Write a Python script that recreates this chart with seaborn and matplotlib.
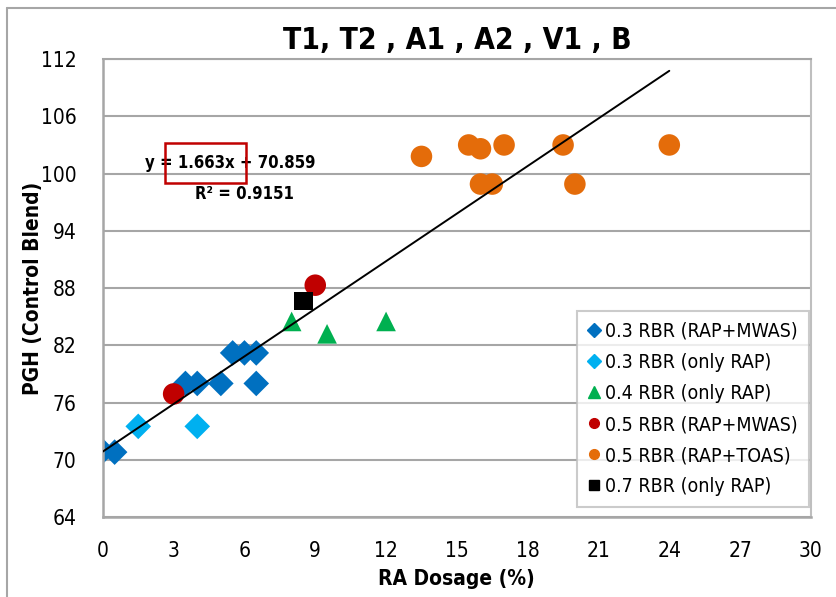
import matplotlib
matplotlib.use("Agg")
import matplotlib.pyplot as plt
from matplotlib import font_manager
from matplotlib.lines import Line2D
from matplotlib.patches import Rectangle
import numpy as np
import pandas as pd
import seaborn as sns

# ---- data -------------------------------------------------------------
groups = [
    "0.3 RBR (RAP+MWAS)",
    "0.3 RBR (only RAP)",
    "0.4 RBR (only RAP)",
    "0.5 RBR (RAP+MWAS)",
    "0.5 RBR (RAP+TOAS)",
    "0.7 RBR (only RAP)",
]

rbr03_mwas_x = [0, 0.5, 3.5, 4.0, 5.0, 6.5, 5.5, 6.0, 6.5]
rbr03_mwas_y = [70.9, 70.8, 78.0, 78.0, 78.0, 78.0, 81.2, 81.2, 81.2]

rbr03_rap_x = [1.5, 4.0]
rbr03_rap_y = [73.5, 73.5]

rbr04_rap_x = [8.0, 9.5, 12.0]
rbr04_rap_y = [84.5, 83.2, 84.5]

rbr05_mwas_x = [3.0, 9.0]
rbr05_mwas_y = [76.9, 88.3]

rbr05_toas_x = [13.5, 15.5, 16.0, 17.0, 19.5, 24.0, 16.0, 16.5, 20.0]
rbr05_toas_y = [101.8, 103.0, 102.6, 103.0, 103.0, 103.0, 98.9, 98.9, 98.9]

rbr07_rap_x = [8.5]
rbr07_rap_y = [86.6]

slope = 1.663
intercept = 70.859
r_squared = 0.9151

x_ticks = list(range(0, 31, 3))
y_ticks = list(range(64, 113, 6))

colors = ["#0070C0", "#00B0F0", "#00B050", "#C00000", "#E46C0A", "#000000"]
markers = ["D", "D", "^", "o", "o", "s"]
point_sizes = [170, 170, 200, 240, 240, 170]

xs = [rbr03_mwas_x, rbr03_rap_x, rbr04_rap_x, rbr05_mwas_x, rbr05_toas_x, rbr07_rap_x]
ys = [rbr03_mwas_y, rbr03_rap_y, rbr04_rap_y, rbr05_mwas_y, rbr05_toas_y, rbr07_rap_y]

df = pd.concat(
    [pd.DataFrame({"RA Dosage (%)": x, "PGH": y, "group": g}) for g, x, y in zip(groups, xs, ys)],
    ignore_index=True,
)

# ---- style ------------------------------------------------------------
sns.set_theme(style="white")
installed = {f.name for f in font_manager.fontManager.ttflist}
family = [f for f in ["Liberation Sans Narrow", "DejaVu Sans"] if f in installed]
plt.rcParams["font.family"] = family
plt.rcParams["font.stretch"] = "condensed"
plt.rcParams["text.color"] = "black"
plt.rcParams["axes.labelcolor"] = "black"

grid_grey = "#A6A6A6"

fig = plt.figure(figsize=(8.36, 5.97), dpi=100)
ax = fig.add_axes([0.123, 0.134, 0.847, 0.767])

# trend line over the data range
xfit = np.array([df["RA Dosage (%)"].min(), df["RA Dosage (%)"].max()])
ax.plot(xfit, slope * xfit + intercept, color="black", lw=1.4, zorder=3)

for g, c, m, s in zip(groups, colors, markers, point_sizes):
    sub = df[df["group"] == g]
    sns.scatterplot(data=sub, x="RA Dosage (%)", y="PGH", color=c, marker=m,
                    s=s, edgecolor="none", linewidth=0, ax=ax, zorder=2,
                    legend=False)

ax.set_xlim(0, 30)
ax.set_ylim(64, 112)
ax.set_xticks(x_ticks)
ax.set_yticks(y_ticks)
ax.tick_params(axis="both", direction="out", length=5, width=1.2, color=grid_grey,
               labelsize=15, labelcolor="black")
ax.tick_params(axis="x", pad=12)
ax.tick_params(axis="y", pad=14)
ax.yaxis.grid(True, color=grid_grey, lw=1.5)
ax.set_axisbelow(True)
for side in ["left", "bottom"]:
    ax.spines[side].set_color(grid_grey)
    ax.spines[side].set_linewidth(1.8)
ax.spines["right"].set_color("#BFBFBF")
ax.spines["right"].set_linewidth(1.5)
ax.spines["top"].set_color(grid_grey)
ax.spines["top"].set_linewidth(1.5)

ax.set_xlabel("RA Dosage (%)", fontsize=15, fontweight="bold", labelpad=6)
ax.set_ylabel("PGH (Control Blend)", fontsize=15, fontweight="bold", labelpad=-2)
fig.text(0.547, 0.932, "T1, T2 , A1 , A2 , V1 , B", ha="center", va="center",
         fontsize=21.5, fontweight="bold")

# regression annotation
ax.text(5.4, 101.1, f"y = {slope:.3f}x + {intercept:.3f}", ha="center", va="center",
        fontsize=12, fontweight="bold")
ax.text(6.0, 97.9, f"R² = {r_squared:.4f}", ha="center", va="center",
        fontsize=12, fontweight="bold")
fig.patches.append(Rectangle((165 / 836, 1 - 183 / 597), 81 / 836, 40 / 597,
                             transform=fig.transFigure, fill=False,
                             edgecolor="#C00000", lw=1.8, zorder=5))

# legend
handles = [Line2D([], [], ls="none", marker=m, color=c, markersize=7 if m != "^" else 8)
           for c, m in zip(colors, markers)]
leg = ax.legend(handles, groups, loc="lower right", bbox_to_anchor=(0.997, 0.022),
                fontsize=14, frameon=True, fancybox=False, handlelength=0.6,
                handletextpad=0.3, labelspacing=0.62, borderpad=0.55,
                borderaxespad=0)
leg.get_frame().set_edgecolor("#BFBFBF")
leg.get_frame().set_linewidth(1.5)

# outer chart border (top and left)
fig.add_artist(Line2D([7 / 836, 7 / 836], [0, 1 - 8 / 597], transform=fig.transFigure,
                      color=grid_grey, lw=1.5))
fig.add_artist(Line2D([7 / 836, 1], [1 - 8 / 597, 1 - 8 / 597], transform=fig.transFigure,
                      color=grid_grey, lw=1.5))

fig.savefig("out.png", dpi=100)
